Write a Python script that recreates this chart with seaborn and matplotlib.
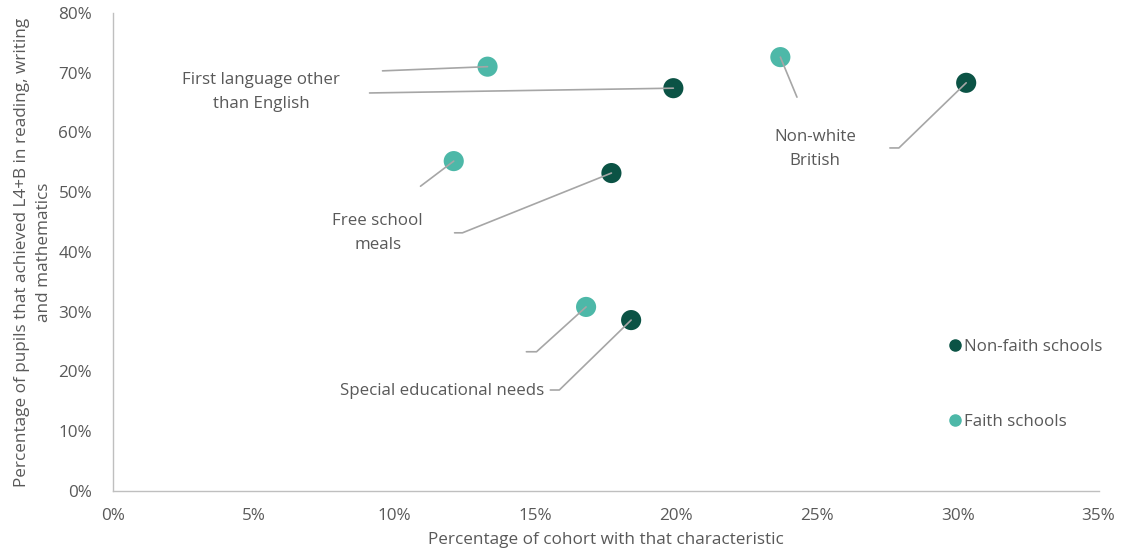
import pandas as pd
import matplotlib
matplotlib.use("Agg")
import matplotlib.pyplot as plt
from matplotlib.ticker import PercentFormatter
from matplotlib.lines import Line2D
import seaborn as sns

# data (percentages)
characteristics = ["First language other than English", "Non-white British",
                   "Free school meals", "Special educational needs"]
faith_cohort = [13.3, 23.7, 12.1, 16.8]
faith_achieved = [71.0, 72.6, 55.2, 30.8]
nonfaith_cohort = [19.9, 30.3, 17.7, 18.4]
nonfaith_achieved = [67.4, 68.3, 53.2, 28.6]

df = pd.DataFrame({
    "Characteristic": characteristics * 2,
    "Cohort": faith_cohort + nonfaith_cohort,
    "Achieved": faith_achieved + nonfaith_achieved,
    "Group": ["Faith schools"] * 4 + ["Non-faith schools"] * 4,
})

colors = {"Non-faith schools": "#0b5345", "Faith schools": "#4db8a8"}
grey = "#595959"
line_grey = "#a6a6a6"

sns.set_theme(style="white")
plt.rcParams["font.family"] = ["Open Sans", "DejaVu Sans"]

fig = plt.figure(figsize=(11.26, 5.6), dpi=100)
ax = fig.add_axes([0.1004, 0.1232, 0.8752, 0.8538])

# leader lines: label anchor (elbow points) per characteristic, in data units
leaders = {
    ("Faith schools", "First language other than English"): [(9.57, 70.3)],
    ("Non-faith schools", "First language other than English"): [(9.11, 66.6)],
    ("Faith schools", "Non-white British"): [(24.29, 65.9)],
    ("Non-faith schools", "Non-white British"): [(27.59, 57.4), (27.91, 57.4)],
    ("Faith schools", "Free school meals"): [(10.92, 51.0)],
    ("Non-faith schools", "Free school meals"): [(12.13, 43.2), (12.41, 43.2)],
    ("Faith schools", "Special educational needs"): [(14.68, 23.3), (15.04, 23.3)],
    ("Non-faith schools", "Special educational needs"): [(15.53, 16.9), (15.85, 16.9)],
}

sns.scatterplot(data=df, x="Cohort", y="Achieved", hue="Group", palette=colors,
                s=210, edgecolor="none", legend=False, ax=ax, zorder=2)

for _, row in df.iterrows():
    pts = leaders[(row["Group"], row["Characteristic"])]
    xs = [p[0] for p in pts] + [row["Cohort"]]
    ys = [p[1] for p in pts] + [row["Achieved"]]
    ax.plot(xs, ys, color=line_grey, lw=1.2, zorder=3)

labels = {
    "First language other\nthan English": (5.25, 66.8),
    "Non-white\nBritish": (24.93, 57.2),
    "Free school\nmeals": (9.40, 43.2),
    "Special educational needs": (11.67, 16.7),
}
for txt, (lx, ly) in labels.items():
    ax.text(lx, ly, txt, ha="center", va="center", fontsize=12.2, color=grey,
            linespacing=1.65)

ax.set_xlim(0, 35)
ax.set_ylim(0, 80)
ax.set_xticks(range(0, 36, 5))
ax.set_yticks(range(0, 81, 10))
ax.xaxis.set_major_formatter(PercentFormatter(decimals=0))
ax.yaxis.set_major_formatter(PercentFormatter(decimals=0))
ax.tick_params(axis="both", labelsize=12.3, colors=grey, length=0, pad=12)
ax.tick_params(axis="y", pad=15)

for side in ["top", "right"]:
    ax.spines[side].set_visible(False)
for side in ["left", "bottom"]:
    ax.spines[side].set_color("#bfbfbf")
    ax.spines[side].set_linewidth(1)

ax.set_xlabel("Percentage of cohort with that characteristic", fontsize=12.3,
              color=grey, labelpad=6)
ax.set_ylabel("Percentage of pupils that achieved L4+B in reading, writing\nand mathematics",
              fontsize=12.3, color=grey, labelpad=5, linespacing=1.45)

handles = [Line2D([], [], marker="o", ls="", color=colors[g], markersize=8)
           for g in ["Non-faith schools", "Faith schools"]]
ax.legend(handles, ["Non-faith schools", "Faith schools"], frameon=False,
          loc="upper left", bbox_to_anchor=(0.829, 0.349), labelspacing=3.45,
          handletextpad=-0.1, handlelength=1.2, fontsize=12.2, labelcolor=grey)

fig.savefig("out.png", dpi=100)
